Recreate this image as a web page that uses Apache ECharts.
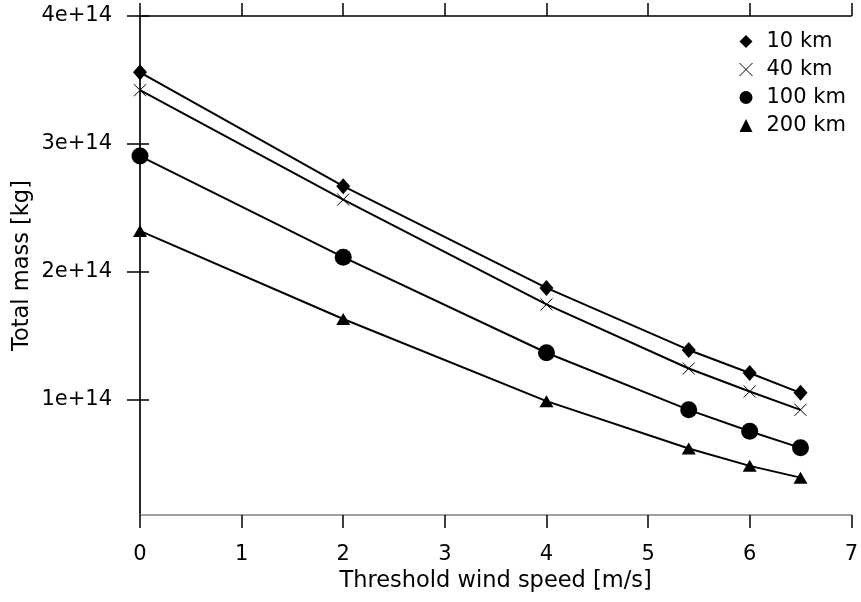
<!DOCTYPE html>
<html>
<head>
<meta charset="utf-8">
<script src="https://cdn.jsdelivr.net/npm/echarts@6/dist/echarts.min.js"></script>
<style>
html,body{margin:0;padding:0;background:#fff;}
#chart{width:861px;height:602px;}
</style>
</head>
<body>
<div id="chart"></div>
<script>
var windSpeeds = [0, 2, 4, 5.4, 6, 6.5];
var mass10km  = [3.56e14, 2.67e14, 1.875e14, 1.39e14, 1.21e14, 1.055e14];
var mass40km  = [3.42e14, 2.565e14, 1.746e14, 1.245e14, 1.065e14, 0.922e14];
var mass100km = [2.905e14, 2.115e14, 1.368e14, 0.922e14, 0.755e14, 0.625e14];
var mass200km = [2.32e14, 1.632e14, 0.99e14, 0.62e14, 0.484e14, 0.392e14];
var seriesNames = ['10 km', '40 km', '100 km', '200 km'];
var yTickValues = [1e14, 2e14, 3e14, 4e14];
var xTickLabels = ['0', '1', '2', '3', '4', '5', '6', '7'];

var FONT = '"DejaVu Sans", sans-serif';
var crossPath = 'path://M0,0L10,10M10,0L0,10';

function pairs(ys) {
  return windSpeeds.map(function (x, i) { return [x, ys[i]]; });
}
function fmtE(v) {
  var e = Math.floor(Math.log10(v) + 1e-9);
  var m = v / Math.pow(10, e);
  return (Math.round(m * 100) / 100) + 'e+' + e;
}

var symbols = [
  {symbol: 'diamond', size: [14, 16], item: {color: '#000'}},
  {symbol: crossPath, size: 12, item: {color: 'rgba(0,0,0,0)', borderColor: '#000', borderWidth: 1}},
  {symbol: 'circle', size: 17, item: {color: '#000'}},
  {symbol: 'triangle', size: [14, 12], item: {color: '#000'}}
];
var dataSets = [mass10km, mass40km, mass100km, mass200km];

var series = dataSets.map(function (d, i) {
  return {
    name: seriesNames[i],
    type: 'line',
    xAxisIndex: 0,
    yAxisIndex: 0,
    data: pairs(d),
    symbol: symbols[i].symbol,
    symbolSize: symbols[i].size,
    showAllSymbol: true,
    lineStyle: {color: '#000', width: 2},
    itemStyle: symbols[i].item,
    emphasis: {disabled: true},
    animation: false,
    z: 3
  };
});

var chart = echarts.init(document.getElementById('chart'), null, {renderer: 'canvas'});
chart.setOption({
  backgroundColor: '#fff',
  animation: false,
  textStyle: {fontFamily: FONT},
  grid: {left: 140, right: 9, top: 16, bottom: 87, containLabel: false},
  legend: {
    orient: 'vertical',
    left: 734,
    top: 26,
    itemWidth: 13,
    itemHeight: 13,
    itemGap: 7,
    textStyle: {fontSize: 21, lineHeight: 20, color: '#000', fontFamily: FONT, padding: [0, 0, 0, 9]},
    data: seriesNames.map(function (n, i) {
      return {name: n, icon: symbols[i].symbol, itemStyle: symbols[i].item};
    }),
    selectedMode: false
  },
  xAxis: [
    {
      type: 'value', position: 'bottom', min: 0, max: 7, interval: 1,
      name: 'Threshold wind speed [m/s]', nameLocation: 'middle', nameGap: 51,
      nameTextStyle: {fontSize: 22.5, color: '#000', fontFamily: FONT},
      axisLine: {show: true, lineStyle: {color: '#808080', width: 1.5}},
      axisTick: {show: true, inside: false, length: 13, lineStyle: {color: '#000', width: 1.5}},
      axisLabel: {show: true, fontSize: 21, color: '#000', margin: 29, fontFamily: FONT,
        formatter: function (v) { return xTickLabels[Math.round(v)]; }},
      splitLine: {show: false}
    },
    {
      type: 'value', position: 'top', min: 0, max: 7, interval: 1,
      axisLine: {show: true, lineStyle: {color: '#000', width: 1.5}},
      axisTick: {show: true, inside: false, length: 13, lineStyle: {color: '#000', width: 1.5}},
      axisLabel: {show: false},
      splitLine: {show: false}
    }
  ],
  yAxis: [
    {
      type: 'value', position: 'left', min: 1e13, max: 4e14,
      name: 'Total mass [kg]', nameLocation: 'middle', nameGap: 106,
      nameMoveOverlap: false,
      nameTextStyle: {fontSize: 22.5, color: '#000', fontFamily: FONT},
      axisLine: {show: true, lineStyle: {color: '#808080', width: 1.5}},
      axisTick: {show: true, inside: false, length: 13, customValues: yTickValues, lineStyle: {color: '#000', width: 1.5}},
      axisLabel: {show: true, fontSize: 21, color: '#000', margin: 28, fontFamily: FONT,
        customValues: yTickValues, formatter: function (v) { return fmtE(v); }},
      splitLine: {show: false}
    },
    {
      type: 'value', position: 'right', min: 1e13, max: 4e14,
      axisLine: {show: true, lineStyle: {color: '#000', width: 1.5}},
      axisTick: {show: true, inside: false, length: 9, customValues: yTickValues, lineStyle: {color: '#000', width: 1.5}},
      axisLabel: {show: false, customValues: yTickValues},
      splitLine: {show: false}
    }
  ],
  series: series
});
</script>
</body>
</html>
